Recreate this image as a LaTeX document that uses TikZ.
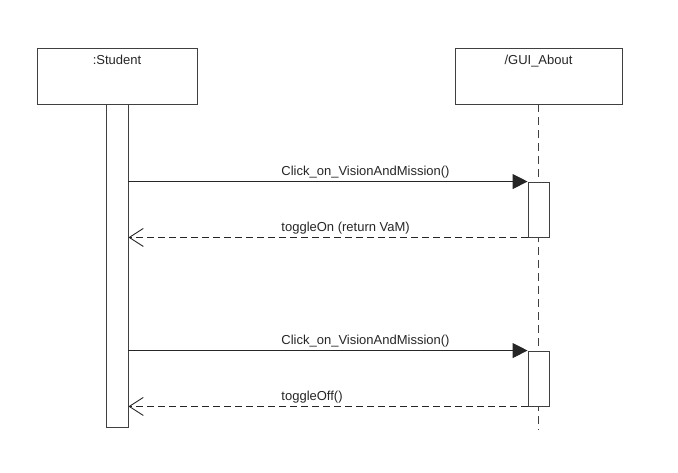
\documentclass[tikz,border=0pt]{standalone}
\usepackage{fontspec}
\setmainfont{Liberation Sans}
\usetikzlibrary{arrows.meta, shadows}

\tikzset{
  objbox/.style={draw=black!75, fill=white, line width=0.9pt, minimum width=160pt, minimum height=56pt,
    drop shadow={opacity=0.2, shadow xshift=1pt, shadow yshift=-1pt}},
  actbar/.style={draw=black!75, fill=white, line width=0.9pt, minimum width=21pt, inner sep=0pt,
    drop shadow={opacity=0.2, shadow xshift=1pt, shadow yshift=-1pt}},
  lifeline/.style={draw=black!75, line width=0.9pt, dash pattern=on 8pt off 5pt},
  callmsg/.style={draw=black!85, line width=0.9pt, -{Triangle[length=15pt,width=15pt]}},
  backmsg/.style={draw=black!85, line width=0.9pt, dash pattern=on 7pt off 4pt, -{Straight Barb[length=14pt,width=18pt,line width=0.9pt]}},
  msglabel/.style={anchor=south west, inner sep=2.5pt, text=black!85}
}

\begin{document}
\begin{tikzpicture}[x=1pt, y=-1pt, font=\fontsize{13}{15}\selectfont]
  \useasboundingbox (0,0) rectangle (678,473);

  % objects
  \node[objbox] (student) at (117,76) {};
  \node[below=4pt, text=black!85] at (student.north) {:Student};
  \node[objbox, minimum width=167pt] (gui) at (538.5,76) {};
  \node[below=4pt, text=black!85] at (gui.north) {/GUI\_About};

  % lifelines
  \coordinate (guiend) at (538.5,430);
  \draw[lifeline] (gui.south) -- (guiend);
  \node[actbar, minimum width=22pt, minimum height=323pt] (stuact) at (117,265.5) {};

  % activations
  \node[actbar, minimum height=55pt] (act1) at (538.5,209.5) {};
  \node[actbar, minimum height=55pt] (act2) at (538.5,378.5) {};

  % messages
  \draw[callmsg] (stuact.east |- act1.north) -- node[msglabel, pos=0.376] {Click\_on\_VisionAndMission()} (act1.north west);
  \draw[backmsg] (act1.south west) -- node[msglabel, pos=0.624] {toggleOn (return VaM)} (stuact.east |- act1.south);

  \draw[callmsg] (stuact.east |- act2.north) -- node[msglabel, pos=0.376] {Click\_on\_VisionAndMission()} (act2.north west);
  \draw[backmsg] (act2.south west) -- node[msglabel, pos=0.624] {toggleOff()} (stuact.east |- act2.south);

\end{tikzpicture}
\end{document}
